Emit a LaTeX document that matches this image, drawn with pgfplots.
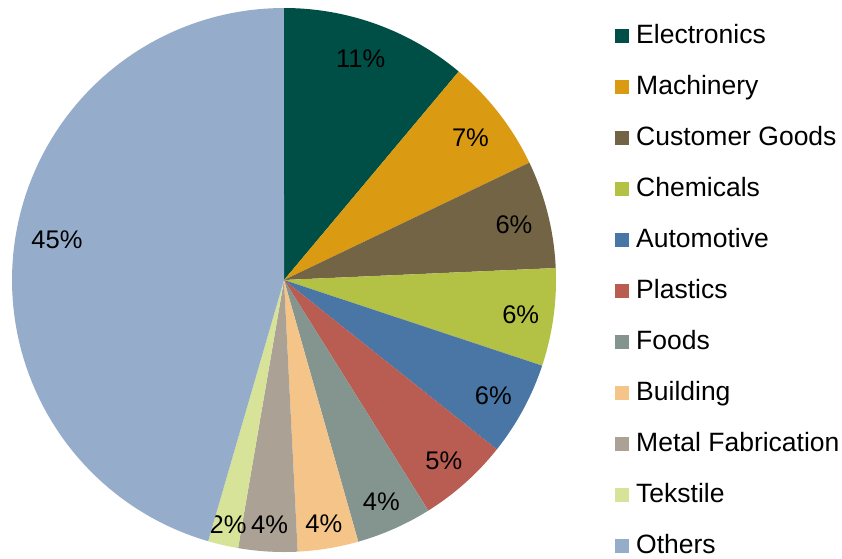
\documentclass[border=0pt]{standalone}
\usepackage{fontspec}
\setmainfont{Liberation Sans}
\usepackage{pgfplots}
\pgfplotsset{compat=1.18}
\definecolor{cElec}{HTML}{004F47}
\definecolor{cMach}{HTML}{DA9A12}
\definecolor{cCust}{HTML}{746446}
\definecolor{cChem}{HTML}{B3C145}
\definecolor{cAuto}{HTML}{4A76A6}
\definecolor{cPlas}{HTML}{B95C52}
\definecolor{cFood}{HTML}{849590}
\definecolor{cBuil}{HTML}{F5C489}
\definecolor{cMeta}{HTML}{ABA194}
\definecolor{cTeks}{HTML}{D6E399}
\definecolor{cOthe}{HTML}{95ADCB}
\newcommand\labelfont{\fontsize{25.5}{29}\selectfont}
\gdef\cum{0}
% \slice{value in %}{colour}{legend name}{shown label}{label distance}{label angle shift}
\newcommand\slice[6]{%
  \pgfmathsetmacro\sA{\cum*3.6}%
  \pgfmathsetmacro\sB{(\cum+#1)*3.6}%
  \pgfmathsetmacro\sM{(\cum+#1/2)*3.6+#6}%
  \pgfmathsetmacro\lx{284+#5*sin(\sM)}%
  \pgfmathsetmacro\ly{276+#5*cos(\sM)}%
  \edef\doit{\noexpand\addplot[fill=#2, draw=none, domain=\sA:\sB, samples=90] ({284+272*sin(x)}, {278+272*cos(x)}) -- (axis cs:284,278) -- cycle;}%
  \doit
  \addlegendentry{#3}%
  \edef\doit{\noexpand\node[font=\noexpand\labelfont, inner sep=0pt] at (axis cs:\lx,\ly) {#4\noexpand\%};}%
  \doit
  \pgfmathsetmacro\tmp{\cum+#1}\xdef\cum{\tmp}%
}
\begin{document}
\begin{tikzpicture}
\useasboundingbox (0,0) rectangle (842pt,558pt);
\begin{axis}[
  at={(0,0)}, anchor=south west,
  scale only axis, width=842pt, height=558pt,
  xmin=0, xmax=842, ymin=0, ymax=558,
  hide axis, clip=false,
  legend cell align=left,
  legend image code/.code={\fill[#1] (0pt,-7pt) rectangle (14pt,7pt); \path (21pt,0pt);},
  legend style={draw=none, fill=none, at={(axis cs:615,534)}, anchor=north west,
    inner sep=0pt, row sep=27pt,
    nodes={inner sep=0pt, text height=19pt, text depth=5pt},
    font=\fontsize{26.5}{30}\selectfont},
]
\slice{11.1}{cElec}{Electronics}{11}{236}{-1}
\slice{6.8}{cMach}{Machinery}{7}{236}{0}
\slice{6.4}{cCust}{Customer Goods}{6}{237}{0}
\slice{5.8}{cChem}{Chemicals}{6}{239}{0}
\slice{5.6}{cAuto}{Automotive}{6}{238}{0}
\slice{5.4}{cPlas}{Plastics}{5}{240}{0}
\slice{4.5}{cFood}{Foods}{4}{240}{0}
\slice{3.6}{cBuil}{Building}{4}{245}{0}
\slice{3.5}{cMeta}{Metal Fabrication}{4}{243}{0}
\slice{1.8}{cTeks}{Tekstile}{2}{249}{0}
\slice{45.5}{cOthe}{Others}{45}{231}{2.5}
\end{axis}
\end{tikzpicture}
\end{document}
